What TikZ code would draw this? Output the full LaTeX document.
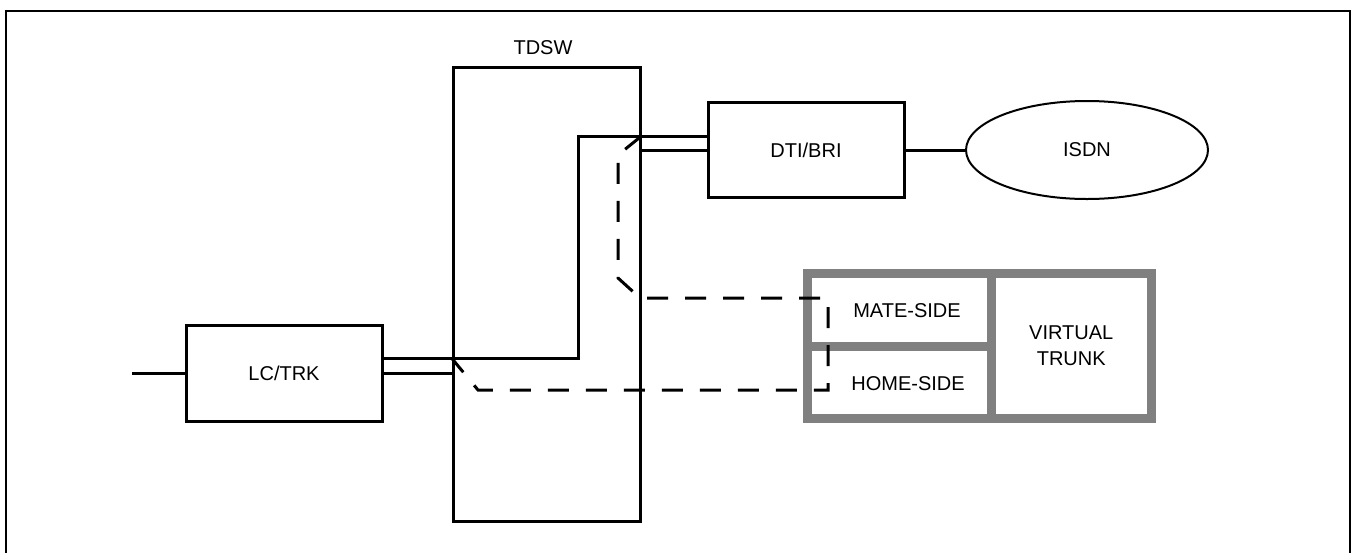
\documentclass[tikz,border=0pt]{standalone}
\usepackage{fontspec}
\setmainfont{Liberation Sans}
\usetikzlibrary{shapes.geometric}
\begin{document}
\begin{tikzpicture}[x=1pt, y=-1pt,
  every node/.style={font=\fontsize{20}{26}\selectfont},
  blk/.style={rectangle, draw, line width=3pt, inner sep=0pt},
  cell/.style={rectangle, draw=gray, line width=9pt, inner sep=0pt, align=center},
  wire/.style={line width=3pt},
  dashline/.style={line width=3pt, dash pattern=on 21pt off 17pt}]
\useasboundingbox (0,0) rectangle (1351,552);
\draw[line width=2pt] (6,570) -- (6,11) -- (1350,11) -- (1350,570);
\node[blk, minimum width=187pt, minimum height=454pt] (tdsw) at (546.5,294){};
\node (tdswlabel) at (543,48){TDSW};
\node[blk, minimum width=196pt, minimum height=96pt] (lctrk) at (284,373){LC/TRK};
\node[blk, minimum width=196pt, minimum height=95pt] (dtibri) at (806,150){DTI/BRI};
\node[ellipse, draw, line width=2pt, minimum width=242pt, minimum height=98pt] (isdn) at (1087,150){ISDN};
\node[cell, minimum width=160.5pt, minimum height=145pt] (vtrunk) at (1071.25,346){VIRTUAL\\TRUNK};
\node[cell, minimum width=183.5pt, minimum height=73pt] (mate) at (899.25,310){};
\node[cell, minimum width=183.5pt, minimum height=72pt] (home) at (899.25,382.5){};
\node (matelabel) at (907,311){MATE-SIDE};
\node (homelabel) at (908,384){HOME-SIDE};
\coordinate (stub) at (132,373);
\coordinate (bend) at (578,136);
\draw[wire](stub) -- (lctrk.west);
\draw[wire]([yshift=15pt]lctrk.east) -| (bend) -- ([yshift=14pt]dtibri.west);
\draw[wire](lctrk.east) -- (lctrk.east -| tdsw.west);
\draw[wire](dtibri.west) -- (dtibri.west -| tdsw.east);
\draw[wire](dtibri.east) -- (isdn.west);
% dashed loop through the switch
\draw[dashline](tdsw.east |- bend) -- (618,155) -- (618,278) -- (640,298) -- (828,298)
  -- (828,390) -- (478,390) -- ([yshift=15pt]lctrk.east -| tdsw.west);
\end{tikzpicture}
\end{document}
